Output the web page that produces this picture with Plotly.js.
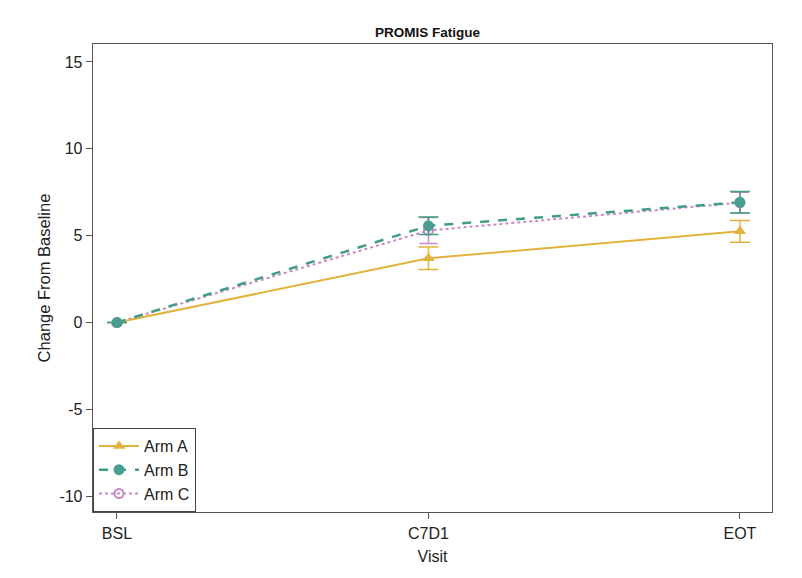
<!DOCTYPE html>
<html>
<head>
<meta charset="utf-8">
<script src="https://cdn.plot.ly/plotly-3.0.1.min.js"></script>
<style>html,body{margin:0;padding:0;background:#fff;}#chart{width:802px;height:578px;}</style>
</head>
<body>
<div id="chart"></div>
<script>
var visits = ["BSL", "C7D1", "EOT"];
var armA = [0, 3.7, 5.25];
var armAErr = [0, 0.65, 0.63];
var armB = [0, 5.57, 6.92];
var armBErr = [0, 0.5, 0.62];
var armC = [0, 5.3, 6.9];
var armCErr = [0, 0.75, 0.6];
var seriesNames = ["Arm A", "Arm B", "Arm C"];
var yTicks = [-10, -5, 0, 5, 10, 15];
var yTickText = ["-10", "-5", "0", "5", "10", "15"];

var xIdx = visits.map(function(v, i){ return i; });

var traces = [
  {
    x: xIdx, y: armC, name: seriesNames[2], type: "scatter", mode: "lines+markers",
    line: {color: "#c98ac2", width: 2, dash: "dot"},
    marker: {symbol: "circle-open", size: 9, color: "#c98ac2", line: {width: 2}},
    error_y: {type: "data", array: armCErr, visible: true, color: "#c98ac2", thickness: 1.5, width: 9},
    legendrank: 3
  },
  {
    x: xIdx, y: armA, name: seriesNames[0], type: "scatter", mode: "lines+markers",
    line: {color: "#e3b23c", width: 2},
    marker: {symbol: "triangle-up", size: 11, color: "#e3b23c"},
    error_y: {type: "data", array: armAErr, visible: true, color: "#e3b23c", thickness: 1.5, width: 10},
    legendrank: 1
  },
  {
    x: xIdx, y: armB, name: seriesNames[1], type: "scatter", mode: "lines+markers",
    line: {color: "#3f9d89", width: 2.5, dash: "dash"},
    marker: {symbol: "circle", size: 11, color: "#4a9e90"},
    error_y: {type: "data", array: armBErr, visible: true, color: "#3f9d89", thickness: 1.5, width: 10},
    legendrank: 2
  }
];

var layout = {
  width: 802, height: 578,
  margin: {l: 93, r: 30, t: 44, b: 66},
  paper_bgcolor: "#fff", plot_bgcolor: "#fff",
  font: {family: "Liberation Sans, Arial, sans-serif", color: "#222"},
  title: {text: "<b>PROMIS Fatigue</b>", font: {size: 13.5, color: "#111"}, x: 0.533, xanchor: "center", y: 0.9446, yanchor: "middle"},
  xaxis: {
    range: [-0.077, 2.103], tickvals: xIdx, ticktext: visits,
    showgrid: false, zeroline: false, showline: true, mirror: true, linecolor: "#555", linewidth: 1.3,
    ticks: "outside", ticklen: 6, tickcolor: "#555", tickfont: {size: 16, color: "#222"},
    title: {text: "Visit", font: {size: 16, color: "#222"}, standoff: 10}
  },
  yaxis: {
    range: [-10.9, 16.03], tickvals: yTicks, ticktext: yTickText,
    showgrid: false, zeroline: false, showline: true, mirror: true, linecolor: "#555", linewidth: 1.3,
    ticks: "outside", ticklen: 6, tickcolor: "#555", tickfont: {size: 16, color: "#222"},
    title: {text: "Change From Baseline", font: {size: 16.5, color: "#222"}, standoff: 4}
  },
  legend: {
    x: 0, y: 0, xanchor: "left", yanchor: "bottom",
    bgcolor: "#fff", bordercolor: "#444", borderwidth: 1,
    font: {size: 16, color: "#222"}, traceorder: "normal",
    tracegroupgap: 0, itemwidth: 40
  },
  showlegend: true
};

Plotly.newPlot("chart", traces, layout, {displayModeBar: false, staticPlot: true});
</script>
</body>
</html>
